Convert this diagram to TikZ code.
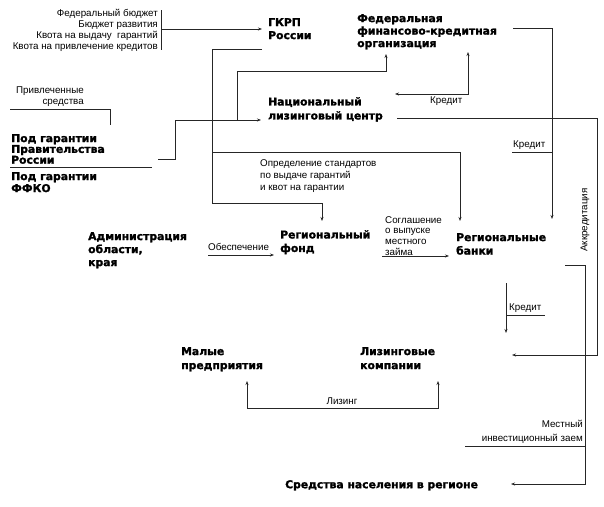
\documentclass[tikz,border=0pt]{standalone}
\usepackage{fontspec}
\setmainfont{Liberation Sans}
\newfontfamily\heavyfont{DejaVu Sans}[BoldFeatures={FakeBold=1.6}]
\usetikzlibrary{arrows.meta}
\tikzset{
  lbl/.style={font={\fontsize{9.8}{11}\selectfont}, inner sep=0pt, align=left},
  bx/.style={font={\heavyfont\bfseries\fontsize{10.8}{12.5}\selectfont}, inner sep=0pt, align=left, anchor=north west},
  ln/.style={line width=0.7pt, draw=black!85},
  arr/.style={ln, -{Stealth[length=4pt,width=3pt]}},
  darr/.style={ln, {Stealth[length=4pt,width=3pt]}-{Stealth[length=4pt,width=3pt]}},
}
\begin{document}
\begin{tikzpicture}[x=1pt,y=-1pt]
\useasboundingbox (0,0) rectangle (604,506);
% main nodes
\node[lbl, align=right, anchor=north east] (src) at (158,9) {Федеральный бюджет\\Бюджет развития\\Квота на выдачу~~гарантий\\Квота на привлечение кредитов};
\node[bx, font={\heavyfont\bfseries\fontsize{10.8}{13}\selectfont}] (gkrp) at (268,18) {ГКРП\\России};
\node[bx] (ffko) at (357,14) {Федеральная\\финансово-кредитная\\организация};
\node[lbl, align=right, anchor=north east] (privl) at (84,87) {Привлеченные\\средства};
\node[bx, font={\heavyfont\bfseries\fontsize{10.8}{10.8}\selectfont}] (gov) at (11,134) {Под гарантии\\Правительства\\России};
\node[bx, font={\heavyfont\bfseries\fontsize{10.8}{12}\selectfont}] (ffkog) at (11,172) {Под гарантии\\ФФКО};
\node[bx, font={\heavyfont\bfseries\fontsize{10.8}{14}\selectfont}] (nlc) at (268,97) {Национальный\\лизинговый центр};
\node[lbl, anchor=north west, font={\fontsize{9.8}{12}\selectfont}] (std) at (260,159) {Определение стандартов\\по выдаче гарантий\\и квот на гарантии};
\node[bx, font={\heavyfont\bfseries\fontsize{10.8}{13}\selectfont}] (adm) at (88,232) {Администрация\\области,\\края};
\node[bx, font={\heavyfont\bfseries\fontsize{10.8}{13.5}\selectfont}] (fund) at (280,230) {Региональный\\фонд};
\node[bx, font={\heavyfont\bfseries\fontsize{10.8}{13.5}\selectfont}] (banks) at (456,233) {Региональные\\банки};
\node[bx, font={\heavyfont\bfseries\fontsize{10.8}{14}\selectfont}] (small) at (181,347) {Малые\\предприятия};
\node[bx, font={\heavyfont\bfseries\fontsize{10.8}{14}\selectfont}] (lease) at (360,347) {Лизинговые\\компании};
\node[bx] (pop) at (285,480) {Средства населения в регионе};
% labels
\node[lbl, anchor=south west] (obesp) at (208,251) {Обеспечение};
\node[lbl, anchor=north west, font={\fontsize{9.8}{10.8}\selectfont}] (sogl) at (385,216) {Соглашение\\о выпуске\\местного\\займа};
\node[lbl, anchor=north west] (kr0) at (430,97) {Кредит};
\node[lbl, anchor=south west] (kr1) at (513,150) {Кредит};
\node[lbl, anchor=south west] (kr2) at (509,313) {Кредит};
\node[lbl, anchor=south] (liz) at (342,405) {Лизинг};
\node[lbl, rotate=90] (akk) at (585,220) {Аккредитация};
\node[lbl, align=right, anchor=south east, font={\fontsize{9.8}{14}\selectfont}] (mest) at (583,444) {Местный\\инвестиционный заем};
% coordinates
\coordinate (bt) at (161.5,10);
\coordinate (bb) at (161.5,50);
\coordinate (bm) at (161.5,29);
\coordinate (gin) at (262,29);
\coordinate (gout) at (262,49);
\coordinate (g1) at (212,49);
\coordinate (g2) at (212,203);
\coordinate (g3) at (322,203);
\coordinate (fin) at (322,221);
\coordinate (g4) at (212,152);
\coordinate (g5) at (460,152);
\coordinate (bin) at (460,221);
\coordinate (p1) at (10,109);
\coordinate (p2) at (110,109);
\coordinate (p3) at (110,125);
\coordinate (s1) at (10,167);
\coordinate (s2) at (152,167);
\coordinate (r0) at (158,159);
\coordinate (r1) at (175,159);
\coordinate (r2) at (175,120);
\coordinate (nin) at (261,120);
\coordinate (r3) at (237,120);
\coordinate (r4) at (237,71);
\coordinate (r5) at (386,71);
\coordinate (fkin) at (386,54);
\coordinate (k1) at (395,94);
\coordinate (k2) at (468,94);
\coordinate (k3) at (468,52);
\coordinate (f1) at (513,28);
\coordinate (f2) at (552,28);
\coordinate (f3) at (552,219);
\coordinate (u1) at (512,152);
\coordinate (n1) at (397,118);
\coordinate (n2) at (597,118);
\coordinate (n3) at (597,355);
\coordinate (n4) at (512,355);
\coordinate (m1) at (565,265);
\coordinate (m2) at (585,265);
\coordinate (m3) at (585,484);
\coordinate (m4) at (511,484);
\coordinate (u2) at (465,446);
\coordinate (c1) at (506,283);
\coordinate (c2) at (506,333);
\coordinate (c3) at (545,315);
\coordinate (c4) at (506,315);
\coordinate (o1) at (208,255);
\coordinate (o2) at (274,255);
\coordinate (q1) at (382,256);
\coordinate (q2) at (449,256);
\coordinate (l1) at (247,381);
\coordinate (l2) at (247,408);
\coordinate (l3) at (438,408);
\coordinate (l4) at (438,381);
% connectors
\draw[ln] (bt) -- (bb);
\draw[arr] (bm) -- (gin);
\draw[arr] (gout) -- (g1) -- (g2) -- (g3) -- (fin);
\draw[arr] (g4) -- (g5) -- (bin);
\draw[ln] (p1) -- (p2) -- (p3);
\draw[ln] (s1) -- (s2);
\draw[arr] (r0) -- (r1) -- (r2) -- (nin);
\draw[arr] (r3) -- (r4) -- (r5) -- (fkin);
\draw[darr] (k1) -- (k2) -- (k3);
\draw[arr] (f1) -- (f2) -- (f3);
\draw[ln] (u1) -- (f2 |- u1);
\draw[arr] (n1) -- (n2) -- (n3) -- (n4);
\draw[arr] (m1) -- (m2) -- (m3) -- (m4);
\draw[ln] (u2) -- (m2 |- u2);
\draw[arr] (c1) -- (c2);
\draw[ln] (c4) -- (c3);
\draw[arr] (o1) -- (o2);
\draw[arr] (q1) -- (q2);
\draw[darr] (l1) -- (l2) -- (l3) -- (l4);
\end{tikzpicture}
\end{document}
